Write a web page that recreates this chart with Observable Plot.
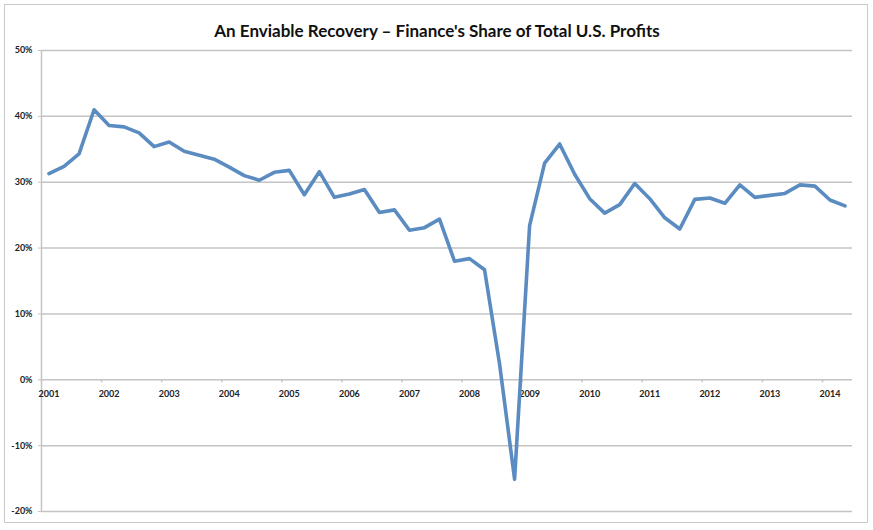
<!DOCTYPE html>
<html>
<head>
<meta charset="utf-8">
<script src="https://cdn.jsdelivr.net/npm/d3@7"></script>
<script src="https://cdn.jsdelivr.net/npm/@observablehq/plot@0.6"></script>
<style>
  html, body { margin: 0; padding: 0; background: #fff; }
  #wrap { position: relative; width: 873px; height: 530px; overflow: hidden; }
  #border { position: absolute; left: 4px; top: 4px; width: 862px; height: 517px;
            border: 1.5px solid #c9c9c9; pointer-events: none; }
  svg { font-family: Lato, "Open Sans", sans-serif; }
</style>
</head>
<body>
<div id="wrap"><div id="border"></div></div>
<script>
const title = "An Enviable Recovery \u2013 Finance's Share of Total U.S. Profits";
const startYear = 2001;
// Quarterly finance share of total U.S. profits (%), 2001 Q1 – 2014 Q2
const shares = [
  31.3, 32.4, 34.3, 41.0,   // 2001
  38.6, 38.4, 37.5, 35.4,   // 2002
  36.1, 34.7, 34.1, 33.5,   // 2003
  32.3, 31.0, 30.3, 31.5,   // 2004
  31.8, 28.1, 31.6, 27.7,   // 2005
  28.2, 28.9, 25.4, 25.8,   // 2006
  22.7, 23.1, 24.4, 18.0,   // 2007
  18.4, 16.7, 2.4, -15.1,   // 2008
  23.4, 32.9, 35.8, 31.2,   // 2009
  27.5, 25.3, 26.6, 29.8,   // 2010
  27.5, 24.6, 22.9, 27.4,   // 2011
  27.6, 26.8, 29.6, 27.7,   // 2012
  28.0, 28.3, 29.6, 29.4,   // 2013
  27.3, 26.4               // 2014
];
const years = d3.range(2001, 2015);
const yTicks = [-20, -10, 0, 10, 20, 30, 40, 50];

const data = shares.map((v, i) => ({t: startYear + Math.floor(i / 4) + (i % 4) * 0.25 + 0.125, v}));

const grid = "#c4c4c4";
const chart = Plot.plot({
  width: 873,
  height: 530,
  marginTop: 50,
  marginBottom: 19,
  marginLeft: 41,
  marginRight: 21,
  style: {fontFamily: "Lato, 'Open Sans', sans-serif", background: "transparent"},
  x: {domain: [2001, 2014.5], axis: null},
  y: {domain: [-20, 50]},
  marks: [
    Plot.gridY(yTicks, {stroke: grid, strokeOpacity: 1, strokeWidth: 1.5}),
    Plot.ruleX([2001], {stroke: grid, strokeWidth: 1.5}),
    Plot.axisY(yTicks, {tickFormat: d => d + "%", tickSize: 3, tickPadding: 6, stroke: grid,
      fontSize: 9, fontWeight: "bold", fill: "#222", label: null}),
    Plot.ruleX(years, {x: d => d, y1: 0, y2: -0.45, stroke: grid, strokeWidth: 1.5}),
    Plot.text(years, {x: d => d + 0.125, y: 0, text: d => String(d), dy: 14,
      fontSize: 9, fontWeight: "bold", fill: "#222"}),
    Plot.line(data, {x: "t", y: "v", stroke: "#5b8cc1", strokeWidth: 3.6,
      strokeLinejoin: "round", strokeLinecap: "round"}),
    Plot.text([title], {frameAnchor: "top", dx: -10, dy: -26, fontSize: 17,
      fontWeight: "bold", fill: "#111"})
  ]
});
document.getElementById("wrap").prepend(chart);
</script>
</body>
</html>
